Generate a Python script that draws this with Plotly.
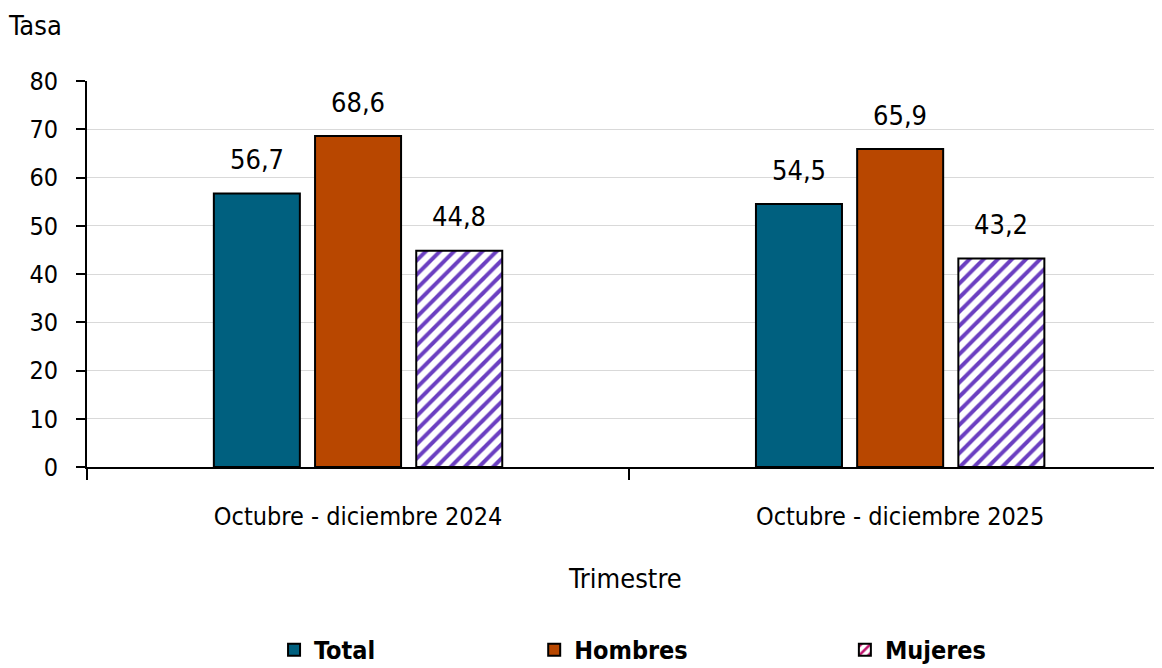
import plotly.graph_objects as go

# data
trimestres = ["Octubre - diciembre 2024", "Octubre - diciembre 2025"]
total = [56.7, 54.5]
hombres = [68.6, 65.9]
mujeres = [44.8, 43.2]
y_ticks = [0, 10, 20, 30, 40, 50, 60, 70, 80]

FONT = "Liberation Sans Narrow, DejaVu Sans Condensed, Roboto Condensed, Arial Narrow, sans-serif"
C_TOTAL = "#00607F"
C_HOMBRES = "#B84700"
C_MUJERES = "#6B3FC1"
C_LEG_MUJ = "#C0146E"

line = dict(color="black", width=2)

fig = go.Figure()

fig.add_trace(go.Bar(
    x=trimestres, y=total, name="Total", legend="legend",
    marker=dict(color=C_TOTAL, line=line),
))
fig.add_trace(go.Bar(
    x=trimestres, y=hombres, name="Hombres", legend="legend2",
    marker=dict(color=C_HOMBRES, line=line),
))
fig.add_trace(go.Bar(
    x=trimestres, y=mujeres, name="Mujeres", showlegend=False,
    marker=dict(color="white", line=line,
                pattern=dict(shape="/", fgcolor=C_MUJERES, bgcolor="white",
                             size=10, solidity=0.4, fillmode="replace")),
))
# legend entry for Mujeres (swatch colour differs from the bars), on a hidden axis
fig.add_trace(go.Bar(
    x=[None], y=[None], name="Mujeres", legend="legend3", xaxis="x2",
    marker=dict(color="white", line=line,
                pattern=dict(shape="/", fgcolor=C_LEG_MUJ, bgcolor="white",
                             size=8, solidity=0.4, fillmode="replace")),
))

# value labels above the bars
annotations = []
for vals, shift in [(total, -101), (hombres, 0), (mujeres, 101)]:
    for cat, v in zip(trimestres, vals):
        annotations.append(dict(
            x=cat, y=v, xref="x", yref="y", text=f"{v:.1f}".replace(".", ","),
            showarrow=False, xshift=shift, yshift=34, yanchor="middle",
            font=dict(family=FONT, size=27, color="black"),
        ))
annotations += [
    dict(text="Tasa", xref="paper", yref="paper", x=-0.048, y=1.145,
         xanchor="center", yanchor="middle", showarrow=False,
         font=dict(family=FONT, size=27)),
    dict(text="Trimestre", xref="paper", yref="paper", x=0.5, y=-0.2876,
         xanchor="center", yanchor="middle", showarrow=False,
         font=dict(family=FONT, size=27)),
]

leg_font = dict(family=FONT, size=25, color="black", weight="bold")
leg_common = dict(orientation="h", yanchor="middle", y=-0.474, xanchor="left",
                  font=leg_font, bgcolor="rgba(0,0,0,0)", itemwidth=30)

# page body adds an 8px offset, so the figure is sized 8px smaller
fig.update_layout(
    width=1154, height=660,
    margin=dict(l=79, r=0, t=73, b=201, autoexpand=False),
    paper_bgcolor="white", plot_bgcolor="white",
    font=dict(family=FONT, size=22, color="black"),
    barmode="group", bargap=0.44, bargroupgap=0.15,
    legend=dict(x=0.174, **leg_common),
    legend2=dict(x=0.416, **leg_common),
    legend3=dict(x=0.705, **leg_common),
    xaxis=dict(
        range=[-0.5, 1.483], showline=True, linecolor="black", linewidth=2,
        ticks="outside", tickson="boundaries", ticklen=11, tickcolor="black",
        tickwidth=1.5, ticklabelstandoff=26, tickfont=dict(family=FONT, size=25),
        showgrid=False, automargin=False,
    ),
    xaxis2=dict(overlaying="x", visible=False, range=[0, 1]),
    yaxis=dict(
        range=[0, 80], tickvals=y_ticks, showline=True, linecolor="black",
        linewidth=2, ticks="outside", ticklen=9, tickcolor="black", tickwidth=1.5,
        ticklabelstandoff=13, showgrid=True, gridcolor="#D9D9D9", gridwidth=1,
        tickfont=dict(family=FONT, size=25), zeroline=False, automargin=False,
    ),
    annotations=annotations,
)

fig.write_html("out.html")
